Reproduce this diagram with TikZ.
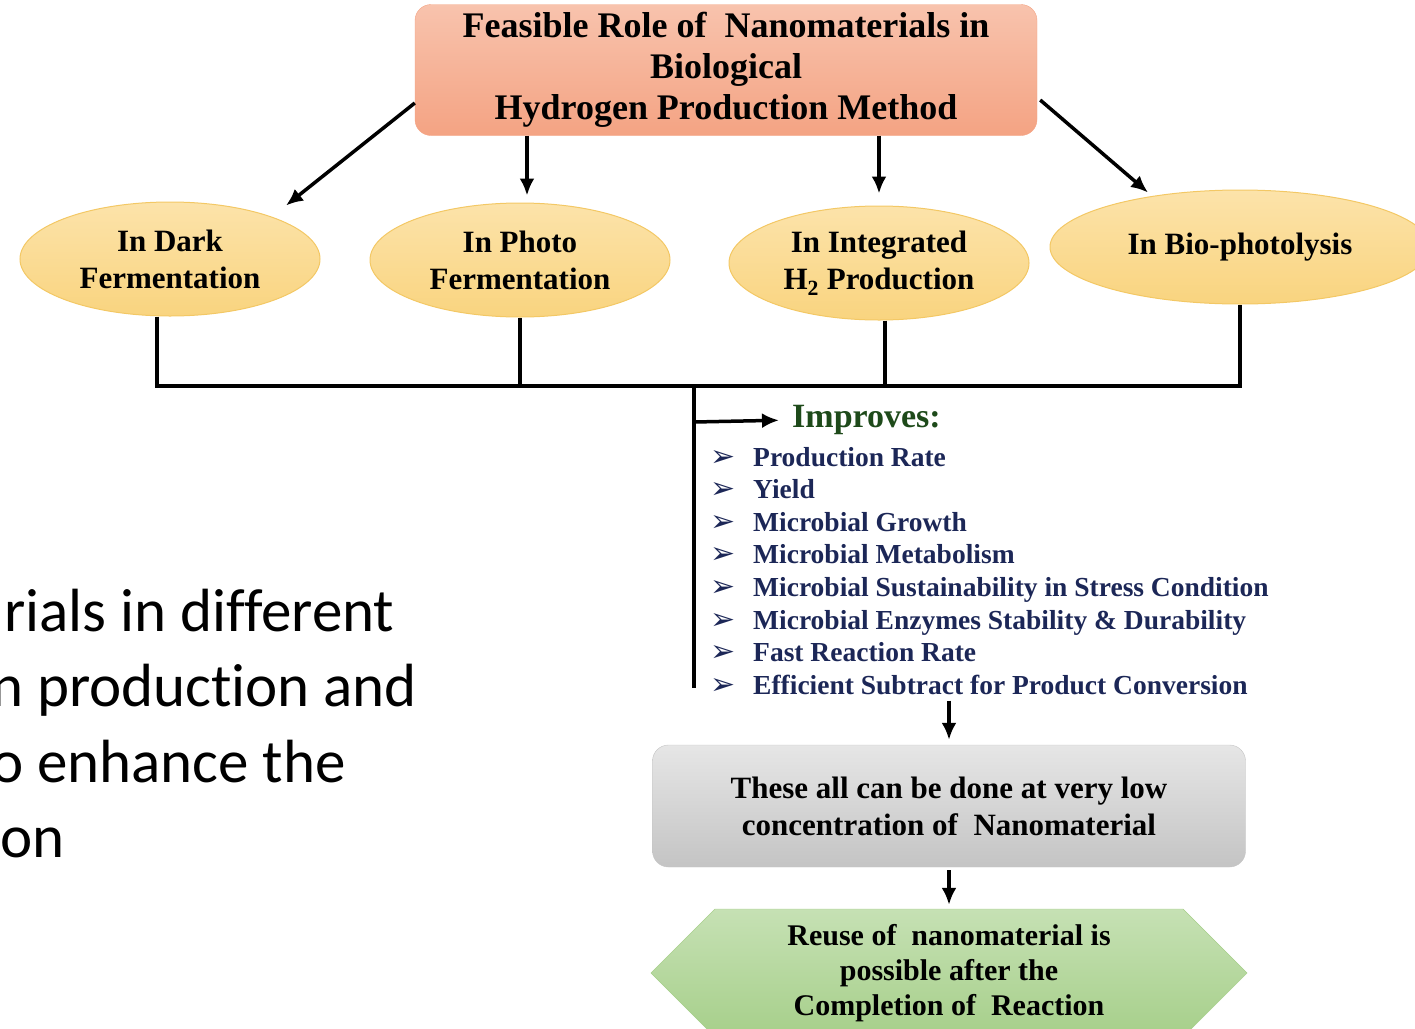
\documentclass[tikz,border=0pt]{standalone}
\usepackage{fontspec}
\setmainfont{Liberation Serif}
\newfontfamily\slidefont[Ligatures=NoCommon]{Carlito}
\newfontfamily\symfont{DejaVu Sans}
\usetikzlibrary{shapes.geometric,shapes.symbols,arrows.meta}

\definecolor{salmonTop}{HTML}{F8C3AD}
\definecolor{salmonBot}{HTML}{F4A383}
\definecolor{amberTop}{HTML}{FCE3AA}
\definecolor{amberBot}{HTML}{F9D47F}
\definecolor{amberLine}{HTML}{F3C865}
\definecolor{greyTop}{HTML}{E6E6E6}
\definecolor{greyBot}{HTML}{C4C4C4}
\definecolor{greenTop}{HTML}{C6E1B4}
\definecolor{greenBot}{HTML}{A6CF8A}
\definecolor{navyText}{HTML}{1C2757}
\definecolor{darkGreen}{HTML}{1E4A1A}

\newcommand{\vineta}{\makebox[43pt][l]{\symfont\fontsize{30}{30}\selectfont ➢}}

\begin{document}
\begin{tikzpicture}[x=1pt, y=-1pt, >={Latex[length=17pt,width=15pt]}]

\useasboundingbox (0,0) rectangle (1415,1028);
\clip (0,0) rectangle (1415,1028);

% Texto de la diapositiva
\begin{scope}[
		every node/.style = {anchor = base west, inner sep = 0pt,
		font = \slidefont\fontsize{61}{75}\selectfont}]
	\node (t1) at (4,631) {rials in different};
	\node (t2) at (-9,706) {n production and};
	\node (t3) at (-9,782) {o enhance the};
	\node (t4) at (0,857) {on};
\end{scope}

% Nodo principal
\node (T) at (726,70) [rectangle, rounded corners = 16pt,
	top color = salmonTop, bottom color = salmonBot, draw = salmonBot,
	minimum width = 622pt, minimum height = 131pt, align = center,
	font = \bfseries\fontsize{36}{41}\selectfont]
	{Feasible Role of\ \ Nanomaterials in\\Biological\\Hydrogen Production Method};

% Nodos metodos
\begin{scope}[
		every node/.style = {shape = ellipse, top color = amberTop,
		bottom color = amberBot, draw = amberLine, line width = 1pt,
		minimum width = 300pt, minimum height = 114pt, inner sep = 0pt,
		align = center, font = \bfseries\fontsize{31}{37}\selectfont}]
	\node (d1) at (170,259) {In Dark\\Fermentation};
	\node (d2) at (520,260) {In Photo\\Fermentation};
	\node (d3) at (879,263) {In Integrated\\H$_{\mathbf 2}$ Production};
	\node (d4) at (1240,247) [minimum width = 380pt] {In Bio-photolysis};
\end{scope}

% Lista
\node (imp) at (792,420) [anchor = west, inner sep = 0pt, text = darkGreen,
	font = \bfseries\fontsize{34}{34}\selectfont] {Improves:};
\begin{scope}[
		every node/.style = {anchor = base west, inner sep = 0pt,
		text = navyText, font = \bfseries\fontsize{27.5}{30}\selectfont}]
	\node (i1) at (710,466) {\vineta Production Rate};
	\node (i2) at (710,498.6) {\vineta Yield};
	\node (i3) at (710,531.2) {\vineta Microbial Growth};
	\node (i4) at (710,563.8) {\vineta Microbial Metabolism};
	\node (i5) at (710,596.4) {\vineta Microbial Sustainability in Stress Condition};
	\node (i6) at (710,629) {\vineta Microbial Enzymes Stability \& Durability};
	\node (i7) at (710,661.6) {\vineta Fast Reaction Rate};
	\node (i8) at (710,694.2) {\vineta Efficient Subtract for Product Conversion};
\end{scope}

% Nodos finales
\node (G) at (949,806) [rectangle, rounded corners = 16pt,
	top color = greyTop, bottom color = greyBot, draw = greyBot,
	minimum width = 593pt, minimum height = 122pt, align = center,
	font = \bfseries\fontsize{31}{37}\selectfont]
	{These all can be done at very low\\concentration of\ \ Nanomaterial};
\node (R) at (949,973) [signal, signal to = east and west,
	signal pointer angle = 90, top color = greenTop, bottom color = greenBot,
	draw = greenBot, minimum width = 596pt, minimum height = 128pt,
	inner sep = 0pt, align = center,
	font = \bfseries\fontsize{30}{35}\selectfont]
	{Reuse of\ \ nanomaterial is\\possible after the\\Completion of\ \ Reaction};

% Paths
\coordinate (bus) at (694,386);
\coordinate (fin) at (694,688);
\coordinate (rama) at (694,422);
\begin{scope}[line width = 3.5pt]
	\draw[->] ([yshift=-33pt]T.west) -- ([xshift=116pt,yshift=-4pt]d1.north);
	\draw[->] ([xshift=7pt]T.south -| d2.north) -- ([xshift=7pt,yshift=7pt]d2.north);
	\draw[->] (T.south -| d3.north) -- ([yshift=12pt]d3.north);
	\draw[->] ([xshift=3pt,yshift=-30pt]T.east) -- ([xshift=-92pt,yshift=-3pt]d4.north);

	\draw ([xshift=-13pt]d1.south) -- ([xshift=-13pt]d1.south |- bus)
		-- (d4.south |- bus) -- (d4.south);
	\draw (d2.south) -- (d2.south |- bus);
	\draw ([xshift=6pt]d3.south) -- ([xshift=6pt]d3.south |- bus);
	\draw (bus) -- (fin);
	\draw[->, shorten >= 13pt] (rama) -- (imp.west);

	\draw[->, shorten <= 6pt] (i8.south -| G.north) -- ([yshift=5pt]G.north);
	\draw[->, shorten <= 3pt, shorten >= 4pt] (G.south) -- (R.north);
\end{scope}
\end{tikzpicture}
\end{document}
